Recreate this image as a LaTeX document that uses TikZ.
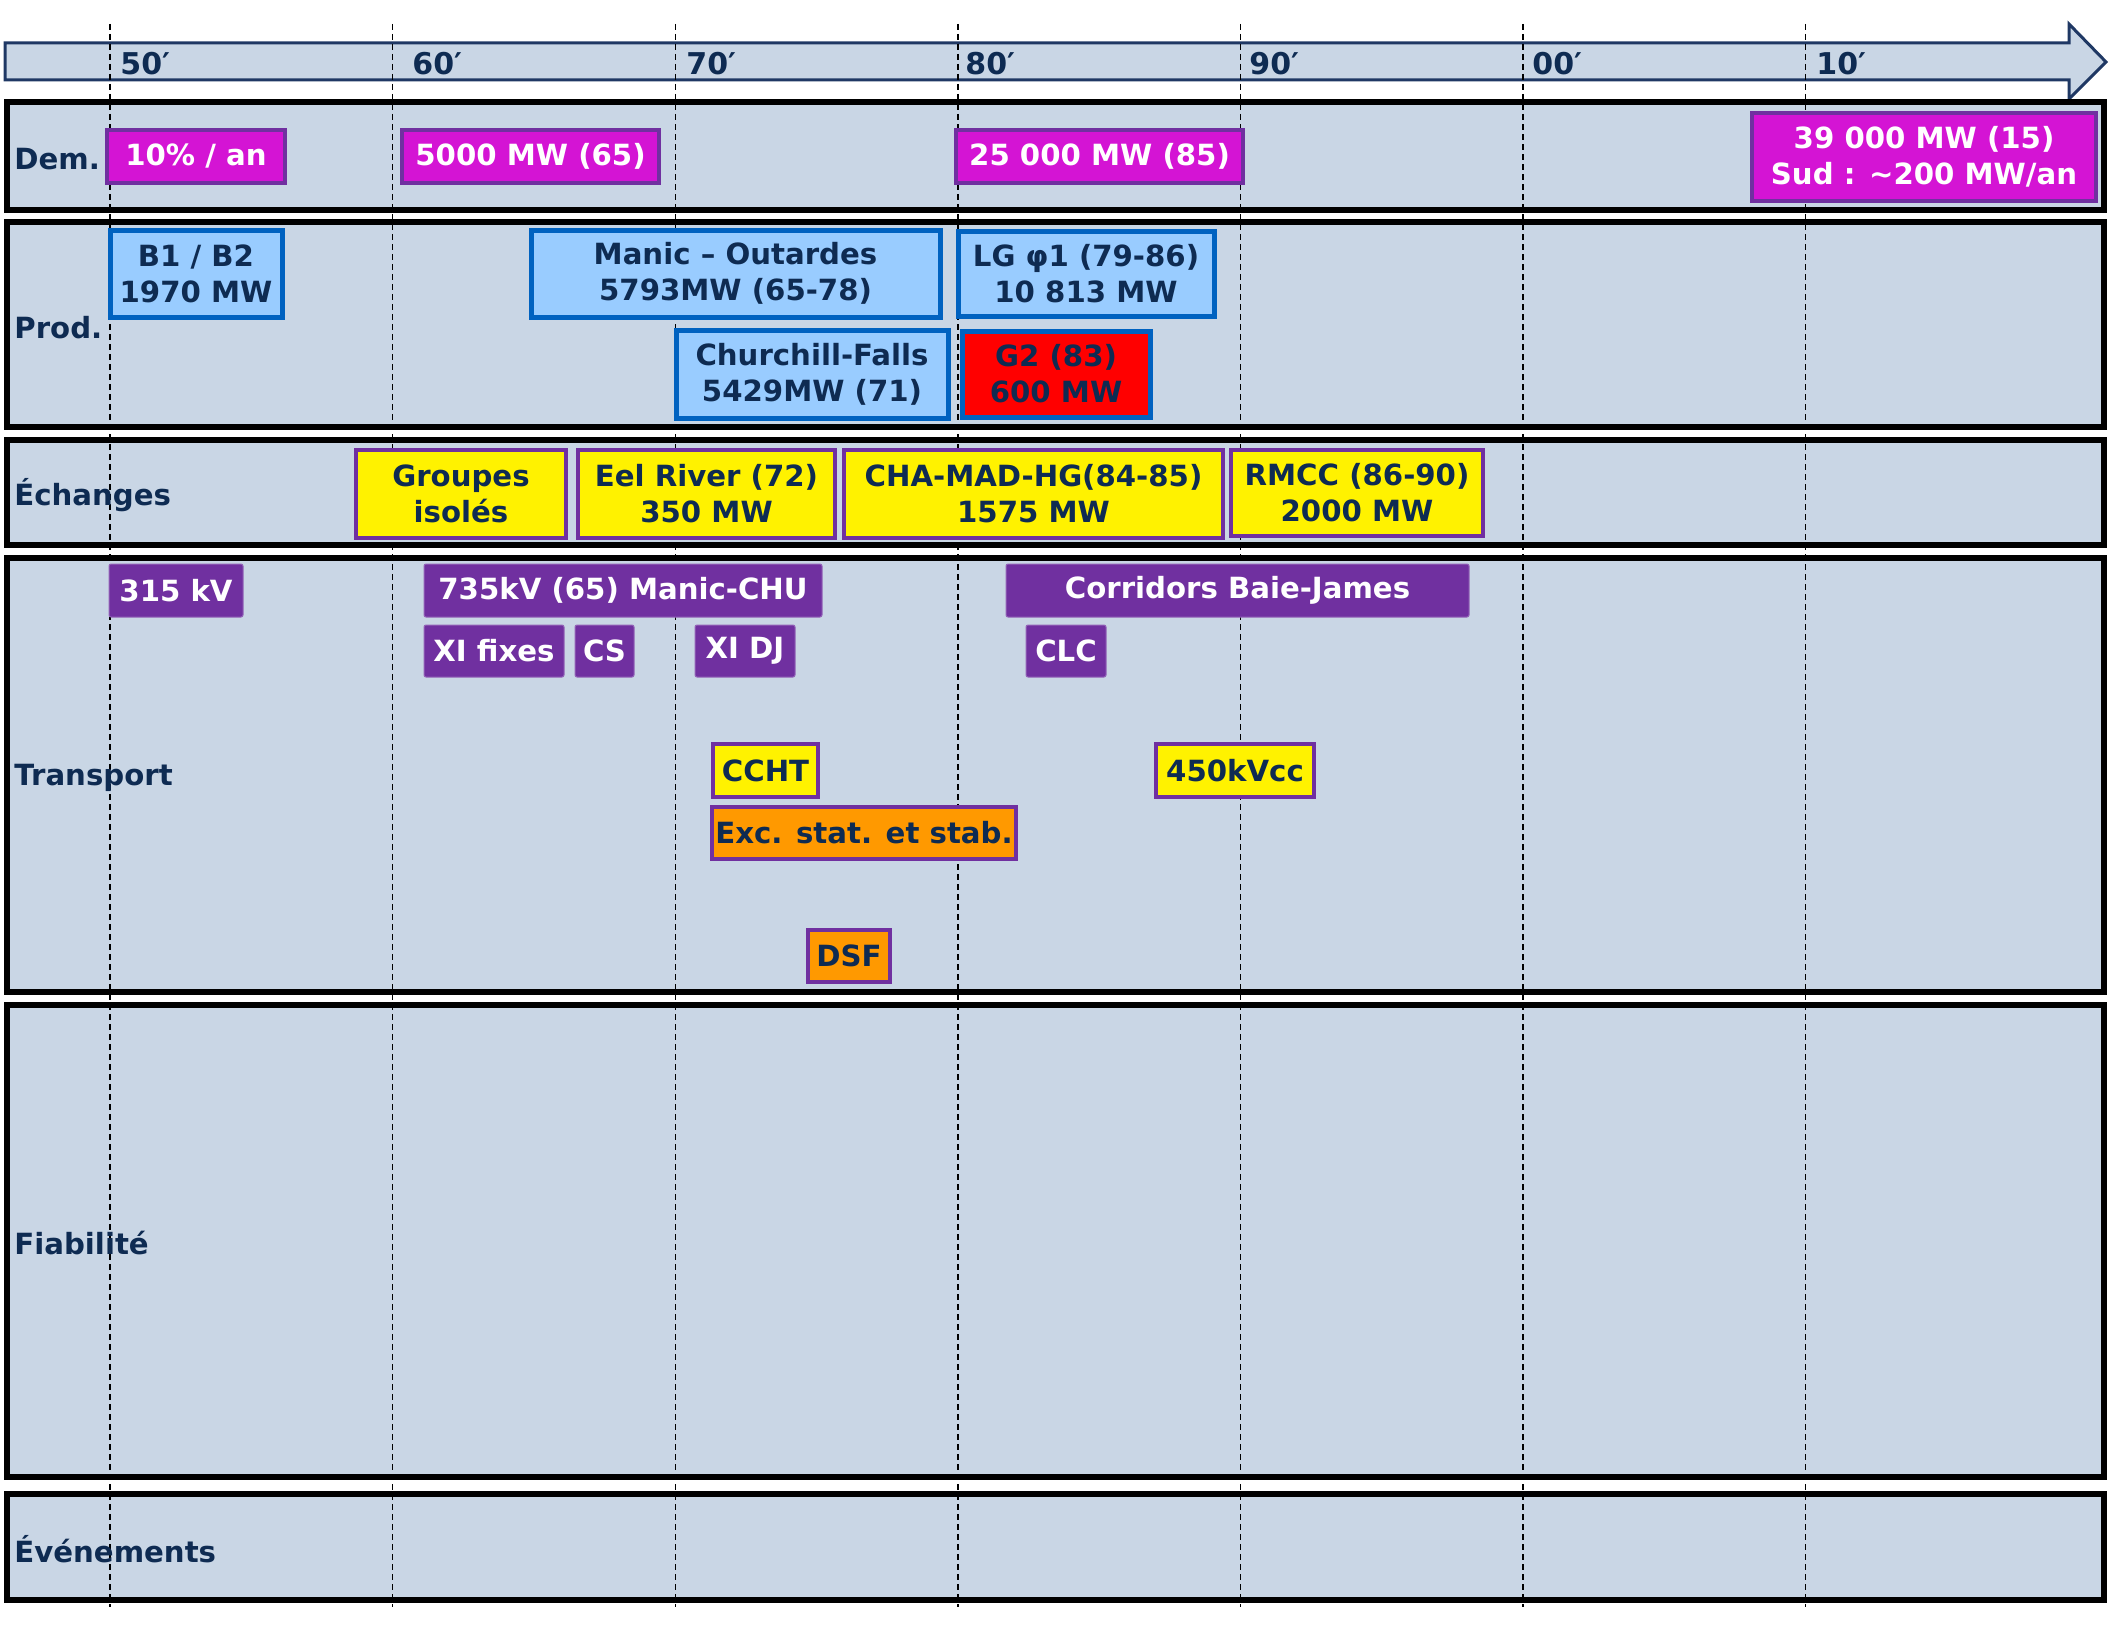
\documentclass[tikz,border=0pt]{standalone}
\usepackage{fontspec}
\setmainfont{DejaVu Sans}

\definecolor{lanefill}{HTML}{C9D6E5}
\definecolor{navy}{HTML}{0E2B52}
\definecolor{magenta2}{HTML}{D414D4}
\definecolor{purp}{HTML}{7030A0}
\definecolor{lblue}{HTML}{99CCFF}
\definecolor{bblue}{HTML}{0062C0}
\definecolor{arrowline}{HTML}{1F3864}
\definecolor{orng}{HTML}{FF9900}

\tikzset{
  txt/.style={font=\bfseries\fontsize{14.6}{18}\selectfont, align=center, inner sep=0pt},
  lane/.style={draw=black, line width=3pt, fill=lanefill},
  demand/.style={txt, fill=magenta2, draw=purp, line width=2pt, text=white},
  prodbox/.style={txt, fill=lblue, draw=bblue, line width=2.5pt, text=navy},
  hotbox/.style={prodbox, fill=red},
  xbox/.style={txt, fill=yellow, draw=purp, line width=2pt, text=navy},
  obox/.style={xbox, fill=orng},
  tbox/.style={txt, fill=purp, draw=purp!75!white, line width=0.5pt, rounded corners=1pt, text=white},
  rowlab/.style={txt, text=navy, anchor=west},
  decade/.style={font=\bfseries\fontsize{15}{18}\selectfont, text=navy, anchor=west, inner sep=0pt},
  decline/.style={draw=black, line width=0.7pt, dash pattern=on 3pt off 2pt},
}

% \boxat{name}{x1}{y1}{x2}{y2}{style}{text}, coordinates in pixels
\newcommand\boxat[7]{%
  \node[#6, minimum width={(#4-#2)*0.5pt-2pt}, minimum height={(#5-#3)*0.5pt-2pt}]
    (#1) at ({(#2+#4)/2},{(#3+#5)/2}) {#7};}

\begin{document}
\begin{tikzpicture}[x=0.5pt,y=-0.5pt]
\useasboundingbox (0,0) rectangle (2112,1632);

% time axis arrow
\draw[arrowline, line width=1.5pt, fill=lanefill]
  (5,43) -- (2069,43) -- (2069,24) -- (2106,62) -- (2069,99) -- (2069,80) -- (5,80) -- cycle;

% swim lanes
\boxat{dem}{5}{100}{2106}{212}{lane}{}
\boxat{prod}{5}{220}{2106}{429}{lane}{}
\boxat{ech}{5}{438}{2106}{547}{lane}{}
\boxat{trans}{5}{556}{2106}{994}{lane}{}
\boxat{fiab}{5}{1003}{2106}{1479}{lane}{}
\boxat{evt}{5}{1492}{2106}{1602}{lane}{}

% decade guides
\foreach \x in {110,392.6,675.2,957.8,1240.4,1523,1805.6}
  \draw[decline] (\x,24) -- (\x,1607);

% decade labels
\node[decade] (d50) at (120,64) {50′};
\node[decade] (d60) at (412,64) {60′};
\node[decade] (d70) at (686,64) {70′};
\node[decade] (d80) at (965,64) {80′};
\node[decade] (d90) at (1249,64) {90′};
\node[decade] (d00) at (1532,64) {00′};
\node[decade] (d10) at (1816,64) {10′};

% lane titles
\node[rowlab] (ldem) at (14,159) {Dem.};
\node[rowlab] (lprod) at (14,328) {Prod.};
\node[rowlab] (lech) at (14,495) {Échanges};
\node[rowlab] (ltrans) at (14,778) {Transport};
\node[rowlab] (lfiab) at (14,1243) {Fiabilité};
\node[rowlab] (levt) at (14,1549) {Événements};

% demand
\boxat{m1}{105}{128}{287}{185}{demand}{10\% / an}
\boxat{m2}{400}{128}{661}{185}{demand}{5000 MW (65)}
\boxat{m3}{954}{128}{1245}{185}{demand}{25 000 MW (85)}
\boxat{m4}{1750}{111}{2098}{203}{demand}{39 000 MW (15)\\Sud : \textasciitilde200 MW/an}

% production
\boxat{p1}{108}{228}{284}{319}{prodbox}{B1 / B2\\1970 MW}
\boxat{p2}{529}{228}{942}{319}{prodbox}{Manic – Outardes\\5793MW (65-78)}
\boxat{p3}{956}{229}{1216}{318}{prodbox}{LG φ1 (79-86)\\10 813 MW}
\boxat{p4}{674}{328}{950}{420}{prodbox}{Churchill-Falls\\5429MW (71)}
\boxat{p5}{960}{329}{1152}{419}{hotbox}{G2 (83)\\600 MW}

% exchanges
\boxat{e1}{354}{448}{568}{540}{xbox}{Groupes\\isolés}
\boxat{e2}{576}{448}{837}{540}{xbox}{Eel River (72)\\350 MW}
\boxat{e3}{842}{448}{1225}{540}{xbox}{CHA-MAD-HG(84-85)\\1575 MW}
\boxat{e4}{1229}{448}{1485}{538}{xbox}{RMCC (86-90)\\2000 MW}

% transmission
\boxat{t1}{107}{562}{245}{619}{tbox}{315 kV}
\boxat{t2}{422}{562}{824}{619}{tbox}{735kV (65) Manic-CHU}
\boxat{t3}{1004}{562}{1471}{619}{tbox}{Corridors Baie-James}
\boxat{t4}{422}{623}{566}{679}{tbox}{XI fixes}
\boxat{t5}{573}{623}{636}{679}{tbox}{CS}
\boxat{t6}{693}{623}{797}{679}{tbox}{XI DJ}
\boxat{t7}{1024}{623}{1108}{679}{tbox}{CLC}
\boxat{t8}{711}{742}{820}{799}{xbox}{CCHT}
\boxat{t9}{1154}{742}{1316}{799}{xbox}{450kVcc}
\boxat{t10}{710}{805}{1018}{861}{obox}{Exc. stat. et stab.}
\boxat{t11}{806}{928}{892}{984}{obox}{DSF}
\end{tikzpicture}
\end{document}
